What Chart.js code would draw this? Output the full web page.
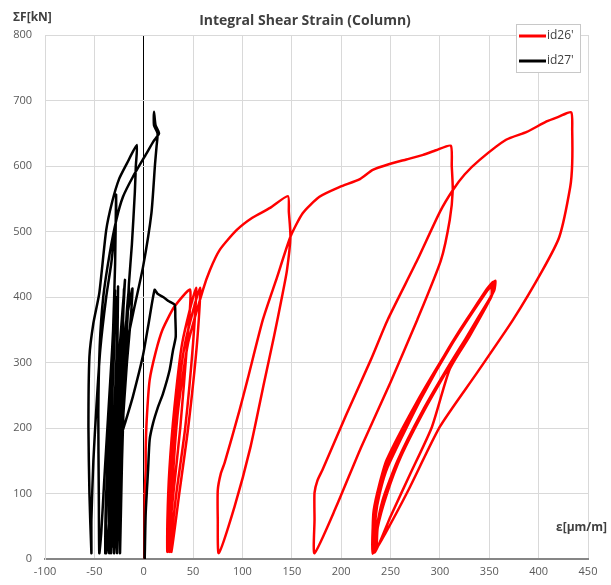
<!DOCTYPE html>
<html>
<head>
<meta charset="utf-8">
<script src="https://cdn.jsdelivr.net/npm/chart.js@4.4.0/dist/chart.umd.min.js"></script>
<style>
  body { margin: 0; background: #fff; }
</style>
</head>
<body>
<canvas id="myChart" width="611" height="585"></canvas>
<script>
// strain [um/m], force [kN]
const id26 = [
  [1,0],[1,50],[1,100],[2,136],[2,166],[3,212],[6,273],[12,315],[19,350],[31,385],[47,411],
  [44,330],[37,200],[30,100],[24,11],
  [24,60],[26,136],[31,230],[39,330],[53,414],
  [50,330],[42,200],[33,100],[26,11],
  [26,60],[28,136],[33,230],[42,330],[57,414],
  [54,330],[45,200],[36,100],[28,11],
  [28,60],[30,136],[35,230],[45,330],[60,411],
  [67,441],[77,472],[94,502],[110,521],[128,536],[146,554],
  [147,530],[148.6,492],[145,440],[140,400],[132,340],[122,270],[108,170],[92,80],[76,9],
  [75,60],[75,105],[78,130],[82,147],[97,227],[105,273],[120.6,365],[135,430],[148.6,492],[161,528],[178,553],[198.6,568],[219,580],[232,594],[249,603],[266,610],[283,617],[296,624],[311,631],
  [312,600],[313,563],[310,518],[301,456],[277,365],[250,270],[220,170],[195,80],[173,9],
  [173,60],[173,101],[176,120],[181,136],[205,220],[230,304],[247,365],[277,456],[300,530],[313,563],[325,587],[340,609],[367,640],[388,652],[408,668],[420,675],[433,682],
  [434,655],[434,604],[432,568],[421,492],[404,441],[374,365],[337,283],[300,202],[268,105],[245,40],[232,8],
  [232,50],[233,75],[238,110],[246,151],[276,238],[310,324],[347,411],[354,423],
  [355,415],[352,400],[330,340],[310,290],[292,202],[270,130],[250,65],[234,10],
  [234,55],[236,85],[242,125],[250,160],[280,245],[312,330],[345,405],[352,415],
  [352,400],[338,365],[311,300],[282,225],[257,150],[242,90],[235,40],[233,10],
  [234,60],[237,95],[244,135],[278,240],[311,327],[346,408],[353,419],
  [353,405],[340,372],[313,303],[284,228],[259,153],[244,93],[236,45],[234,12],
  [235,65],[239,100],[247,140],[281,245],[313,330],[348,410],[356,425],
  [355,410],[342,376],[315,308],[286,232],[261,158],[246,98],[237,48],[236,20]
];

const id27 = [
  [1,0],[2,70],[4.4,136],[6,182],[9.4,207],[14,230],[19.6,253],[26.3,289],[29.7,319],[32.4,339],[32,370],[31.4,388],[26,393],[19.6,400],[14,405],[11,411],
  [5,360],[-1,309],[-11,248],[-18,212],[-26,171],[-30,90],[-33,9],
  [-32,60],[-31,140],[-28,240],[-24,330],[-19,426],
  [-21,370],[-24,290],[-27,200],[-29,100],[-30,9],
  [-29,60],[-28,150],[-24,270],[-18,360],[-11.5,413],
  [-13,370],[-17,300],[-22,190],[-26,90],[-27,9],
  [-28,60],[-28,160],[-27,280],[-26,416],
  [-27,330],[-30,220],[-33,110],[-35,9],
  [-35,80],[-33,200],[-30,320],[-28,400],
  [-30,320],[-34,200],[-38,100],[-39,9],
  [-38,60],[-36,150],[-33,260],[-31,350],[-29,450],[-28,556],
  [-28,520],[-30,490],[-33,450],[-38,400],[-44,320],[-48,230],[-51,150],[-53,60],[-53,9],
  [-55,100],[-56,200],[-55,309],[-51,360],[-45,406],[-38,502],[-32,545],[-25,580],[-17,604],[-7,632],
  [-8,600],[-9,560],[-12,480],[-15,420],[-18,330],[-20,250],[-22,150],[-24,9],
  [-24,80],[-23,200],[-20,300],[-17,380],[-15,413],
  [-17,350],[-21,250],[-24,150],[-26,60],[-27,9],
  [-27,80],[-25,200],[-22,310],[-20,412],
  [-22,330],[-26,220],[-31,120],[-36,40],[-38,9],
  [-38,80],[-35,220],[-31,330],[-29,410],
  [-32,320],[-36,220],[-40,120],[-43,40],[-45,9],
  [-45.5,100],[-46,222],[-44.6,324],[-41,400],[-34.4,467],[-27.7,518],[-21,553],[-10.8,584],[2.7,619],[10,638],[15.5,650],[12,662],[10.4,683],[10.4,662],[14,650],[13,630],[11.5,604],[7.8,528],[-0.7,446],[-10.8,375],[-21,299],[-27.7,222],[-29,171],[-31,19]
];

const seriesNames = ["id26'", "id27'"];
const seriesColors = ['#ff0000', '#000000'];
const xRange = [-100, 450, 50];
const yRange = [0, 800, 100];

function toPoints(arr) {
    return arr.map(function(p) { return {x: p[0], y: p[1]} })
}

// title, axis names and the boxed legend inside the plot
const decorations = {
    id: 'decorations',
    afterDraw(chart) {
        const ctx = chart.ctx
        ctx.save()
        ctx.fillStyle = '#404040'
        ctx.textBaseline = 'middle'
        ctx.font = 'bold 14px "Open Sans"'
        ctx.textAlign = 'center'
        ctx.fillText('Integral Shear Strain (Column)', 305, 21)
        ctx.font = 'bold 12px "Open Sans"'
        ctx.textAlign = 'left'
        ctx.fillText('ΣF[kN]', 13, 18)
        ctx.fillText('ε[μm/m]', 556, 528)

        // legend
        ctx.fillStyle = '#ffffff'
        ctx.fillRect(516, 24, 64, 48)
        ctx.strokeStyle = '#c8c8c8'
        ctx.lineWidth = 1
        ctx.strokeRect(516.5, 24.5, 64, 48)
        ctx.font = '12px "Open Sans"'
        chart.data.datasets.forEach(function(ds, i) {
            let y = 36 + i * 25
            ctx.strokeStyle = ds.borderColor
            ctx.lineWidth = 3
            ctx.beginPath()
            ctx.moveTo(519, y)
            ctx.lineTo(546, y)
            ctx.stroke()
            ctx.fillStyle = '#404040'
            ctx.fillText(ds.label, 547, y)
        })
        ctx.restore()
    }
}

var ctx = document.getElementById('myChart');
var myChart = new Chart(ctx, {
    type: 'scatter',
    data: {
        datasets: [{
            label: seriesNames[0],
            data: toPoints(id26),
            borderColor: seriesColors[0],
            order: 1
        }, {
            label: seriesNames[1],
            data: toPoints(id27),
            borderColor: seriesColors[1],
            order: 0
        }]
    },
    options: {
        responsive: false,
        animation: false,
        devicePixelRatio: 1,
        layout: { padding: { top: 35, right: 23, left: 0, bottom: 0 } },
        elements: {
            point: { radius: 0 },
            line: { borderWidth: 2.5, tension: 0.2, borderJoinStyle: 'round', borderCapStyle: 'round' }
        },
        datasets: { scatter: { showLine: true } },
        plugins: {
            legend: { display: false },
            tooltip: { enabled: false }
        },
        scales: {
            x: {
                type: 'linear',
                min: xRange[0],
                max: xRange[1],
                ticks: { stepSize: xRange[2], padding: 6, color: '#595959', font: { family: 'Open Sans', size: 11 } },
                grid: {
                    drawTicks: false,
                    color: function(c) { return c.tick && c.tick.value === 0 ? '#000000' : '#d9d9d9' },
                    lineWidth: 1
                },
                border: { color: '#868686', width: 2 },
                afterFit: function(scale) { scale.height = 26 }
            },
            y: {
                type: 'linear',
                min: yRange[0],
                max: yRange[1],
                ticks: { stepSize: yRange[2], padding: 13, color: '#595959', font: { family: 'Open Sans', size: 11 } },
                grid: { drawTicks: false, color: '#d9d9d9', lineWidth: 1 },
                border: { color: '#d9d9d9', width: 1 },
                afterFit: function(scale) { scale.width = 45 }
            }
        }
    },
    plugins: [decorations]
});
</script>
</body>
</html>
